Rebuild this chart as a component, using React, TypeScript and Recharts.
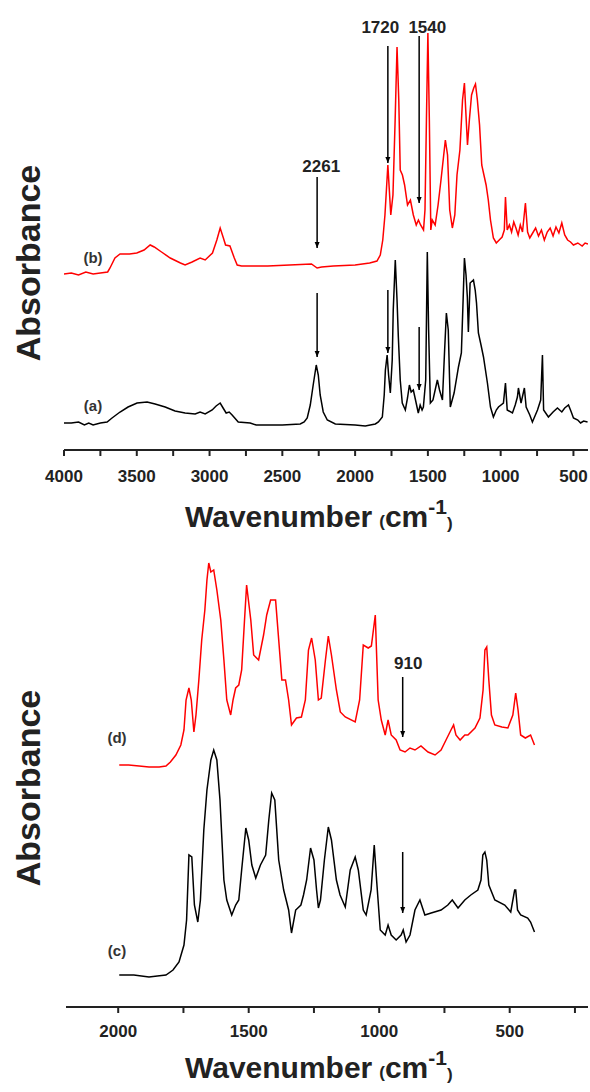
import { LineChart, Line, XAxis, YAxis, ReferenceLine, ReferenceDot } from "recharts";

// FTIR spectra, absorbance in arbitrary units (offset traces), wavenumber in cm-1
// top panel: (a) black, (b) red
const specA: [number, number][] = [
  [4000, 27], [3950, 27], [3900, 28], [3860, 25], [3830, 27], [3800, 25], [3750, 27], [3704, 28],
  [3670, 32], [3615, 38], [3560, 43], [3498, 47], [3429, 48], [3374, 46], [3305, 43], [3237, 39],
  [3168, 37], [3099, 36], [3065, 38], [3030, 36], [2982, 40], [2955, 44], [2927, 47], [2907, 42],
  [2886, 37], [2865, 38], [2845, 35], [2803, 28], [2721, 27], [2680, 25], [2500, 25], [2377, 26],
  [2350, 28], [2329, 32], [2308, 45], [2288, 65], [2267, 85], [2253, 75], [2240, 55], [2219, 38],
  [2191, 30], [2136, 26], [2000, 25], [1930, 24], [1896, 25], [1861, 26], [1840, 28], [1813, 33],
  [1800, 55], [1792, 80], [1780, 95], [1770, 75], [1758, 57], [1745, 90], [1738, 140], [1724, 190],
  [1712, 150], [1703, 113], [1690, 70], [1676, 47], [1655, 40], [1640, 52], [1627, 65], [1615, 58],
  [1600, 60], [1585, 50], [1566, 37], [1553, 45], [1540, 40], [1531, 43], [1515, 70], [1504, 198],
  [1495, 120], [1483, 47], [1465, 50], [1435, 70], [1420, 60], [1400, 50], [1385, 100], [1373, 137],
  [1360, 120], [1346, 43], [1320, 57], [1290, 83], [1270, 97], [1258, 150], [1249, 192], [1238, 175],
  [1229, 153], [1222, 118], [1210, 167], [1187, 170], [1175, 160], [1166, 147], [1153, 117], [1135, 105],
  [1118, 93], [1091, 67], [1070, 43], [1050, 33], [1030, 40], [1015, 43], [981, 47], [967, 67],
  [955, 40], [919, 37], [900, 45], [885, 53], [878, 62], [860, 47], [837, 62], [825, 43],
  [800, 35], [782, 28], [747, 40], [725, 50], [713, 95], [705, 40], [672, 33], [640, 38],
  [610, 42], [580, 38], [560, 42], [534, 45], [515, 38], [500, 32], [470, 30], [451, 27],
  [430, 29], [403, 28],
];

const specB: [number, number][] = [
  [4000, 176], [3950, 177], [3900, 175], [3850, 178], [3800, 176], [3750, 177], [3700, 178], [3684, 182],
  [3650, 192], [3615, 196], [3550, 196], [3500, 197], [3450, 200], [3408, 205], [3380, 203], [3330, 198],
  [3270, 192], [3200, 187], [3168, 185], [3120, 188], [3065, 192], [3030, 190], [2980, 197], [2950, 210],
  [2927, 222], [2905, 212], [2890, 205], [2860, 204], [2830, 192], [2810, 185], [2780, 184], [2600, 184],
  [2450, 185], [2300, 186], [2261, 182], [2230, 183], [2150, 184], [2000, 185], [1900, 187], [1850, 189],
  [1827, 195], [1810, 210], [1795, 235], [1785, 260], [1775, 285], [1765, 260], [1755, 235], [1740, 255],
  [1725, 330], [1712, 403], [1700, 350], [1690, 280], [1675, 275], [1660, 265], [1640, 245], [1620, 250],
  [1600, 235], [1580, 225], [1565, 230], [1550, 225], [1530, 220], [1520, 240], [1510, 330], [1500, 417],
  [1490, 330], [1480, 220], [1470, 230], [1450, 225], [1430, 245], [1410, 270], [1395, 290], [1380, 310],
  [1365, 295], [1350, 240], [1332, 222], [1315, 235], [1300, 275], [1280, 300], [1262, 350], [1249, 367],
  [1240, 340], [1228, 305], [1215, 330], [1200, 355], [1185, 362], [1173, 366], [1160, 350], [1145, 325],
  [1130, 285], [1115, 275], [1100, 265], [1085, 250], [1070, 230], [1050, 212], [1030, 207], [1010, 210],
  [990, 213], [975, 220], [967, 253], [955, 220], [940, 225], [925, 218], [910, 228], [895, 222],
  [880, 215], [865, 225], [850, 218], [830, 247], [815, 218], [800, 212], [780, 217], [760, 222],
  [740, 214], [720, 220], [700, 210], [680, 218], [660, 222], [640, 214], [620, 223], [600, 217],
  [580, 227], [560, 215], [540, 210], [520, 208], [500, 205], [470, 207], [440, 204], [420, 207],
  [400, 206],
];

// bottom panel: (c) black, (d) red
const specC: [number, number][] = [
  [1996, 32], [1940, 32], [1882, 30], [1850, 31], [1817, 32], [1790, 37], [1767, 45], [1748, 62],
  [1738, 87], [1729, 152], [1718, 150], [1708, 102], [1695, 85], [1685, 107], [1672, 177], [1660, 217],
  [1645, 247], [1634, 257], [1622, 247], [1610, 207], [1595, 127], [1584, 107], [1565, 92], [1550, 102],
  [1538, 107], [1527, 137], [1511, 179], [1500, 167], [1488, 142], [1473, 129], [1455, 142], [1435, 152],
  [1423, 187], [1412, 214], [1400, 207], [1385, 147], [1366, 117], [1347, 97], [1336, 74], [1320, 97],
  [1300, 102], [1290, 112], [1278, 127], [1263, 159], [1250, 147], [1240, 117], [1233, 99], [1225, 107],
  [1210, 147], [1195, 180], [1183, 167], [1164, 127], [1150, 112], [1130, 100], [1111, 137], [1092, 150],
  [1080, 137], [1061, 97], [1050, 92], [1031, 117], [1019, 162], [1010, 127], [996, 77], [977, 72],
  [966, 82], [954, 72], [935, 67], [916, 72], [908, 77], [897, 65], [882, 72], [863, 97],
  [844, 107], [825, 92], [801, 94], [763, 97], [737, 102], [720, 107], [698, 99], [672, 107],
  [649, 112], [622, 117], [610, 127], [603, 152], [595, 155], [588, 147], [580, 122], [557, 107],
  [519, 102], [496, 95], [481, 117], [477, 117], [470, 97], [458, 92], [431, 89], [420, 85],
  [405, 75],
];

const specD: [number, number][] = [
  [1996, 242], [1960, 242], [1920, 241], [1882, 240], [1843, 240], [1817, 241], [1800, 245], [1779, 252],
  [1760, 262], [1748, 277], [1740, 307], [1729, 319], [1720, 307], [1710, 275], [1702, 292], [1691, 327],
  [1680, 367], [1668, 397], [1660, 427], [1653, 444], [1645, 435], [1634, 437], [1622, 417], [1607, 387],
  [1595, 347], [1584, 307], [1569, 292], [1560, 307], [1550, 319], [1538, 322], [1527, 337], [1516, 387],
  [1508, 422], [1492, 387], [1481, 352], [1462, 347], [1443, 372], [1431, 392], [1416, 407], [1397, 407],
  [1385, 367], [1373, 327], [1359, 327], [1347, 307], [1336, 282], [1317, 289], [1298, 290], [1283, 307],
  [1271, 357], [1259, 369], [1245, 347], [1233, 307], [1222, 309], [1206, 347], [1195, 371], [1183, 352],
  [1164, 317], [1149, 295], [1130, 290], [1092, 285], [1075, 307], [1061, 362], [1042, 359], [1030, 361],
  [1015, 392], [1004, 307], [992, 287], [977, 272], [966, 287], [954, 272], [935, 267], [920, 257],
  [901, 255], [882, 259], [863, 257], [840, 261], [813, 255], [786, 252], [763, 257], [744, 267],
  [725, 277], [715, 282], [706, 272], [690, 267], [672, 272], [660, 272], [633, 279], [614, 289],
  [602, 317], [595, 357], [588, 360], [580, 327], [570, 292], [557, 282], [530, 280], [507, 279],
  [488, 292], [477, 314], [468, 297], [458, 272], [440, 269], [420, 272], [405, 262],
];

const topTicks = [4000, 3750, 3500, 3250, 3000, 2750, 2500, 2250, 2000, 1750, 1500, 1250, 1000, 750, 500];
const bottomTicks = [2000, 1750, 1500, 1250, 1000, 750, 500, 250];

const toRows = (s: [number, number][]) => s.map(([w, v]) => ({ w, v }));

const FONT = "'Liberation Sans', Arial, sans-serif";
const INK = "#222";

const tickStyle = { fontSize: 17, fontWeight: "bold", fill: INK, fontFamily: FONT };
const every500 = (v: number) => (v % 500 === 0 ? String(v) : "");

const ArrowHead = (props: any) => {
  const { cx, cy } = props;
  return <polygon points={`${cx - 2.5},${cy - 6} ${cx + 2.5},${cy - 6} ${cx},${cy}`} fill="#000" />;
};

const note = (text: string) => (props: any) => (
  <text
    x={props.cx}
    y={props.cy}
    textAnchor="middle"
    dominantBaseline="central"
    fontSize={17}
    fontWeight="bold"
    fontFamily={FONT}
    fill={INK}
  >
    {text}
  </text>
);

function arrow(key: string, x: number, y1: number, y2: number) {
  return [
    <ReferenceLine
      key={key + "l"}
      segment={[{ x, y: y1 }, { x, y: y2 }]}
      stroke="#000"
      strokeWidth={1.5}
      ifOverflow="visible"
    />,
    <ReferenceDot key={key + "h"} x={x} y={y2} r={3} shape={ArrowHead} ifOverflow="visible" />,
  ];
}

function Title({ y }: { y: number }) {
  return (
    <text x={185} y={y} fontFamily={FONT} fontWeight="bold" fill={INK} fontSize={30}>
      Wavenumber
      <tspan fontSize={17} dx={7}>(</tspan>
      <tspan fontSize={30}>cm</tspan>
      <tspan fontSize={21} dy={-13}>-1</tspan>
      <tspan fontSize={17} dy={15}>)</tspan>
    </text>
  );
}

function YTitle({ y }: { y: number }) {
  return (
    <text
      x={28}
      y={y}
      transform={`rotate(-90 28 ${y})`}
      textAnchor="middle"
      dominantBaseline="central"
      fontFamily={FONT}
      fontWeight="bold"
      fill={INK}
      fontSize={34}
    >
      Absorbance
    </text>
  );
}

function Tag({ x, y, t }: { x: number; y: number; t: string }) {
  return (
    <text x={x} y={y} textAnchor="middle" dominantBaseline="central" fontFamily={FONT} fontWeight="bold" fill="#333" fontSize={15}>
      {t}
    </text>
  );
}

export default function App() {
  const axisLine = { stroke: INK, strokeWidth: 2 };
  return (
    <div style={{ position: "absolute", left: 0, top: 0, width: 590, height: 1092, background: "#fff" }}>
      <div style={{ position: "absolute", left: 0, top: 0 }}>
        <LineChart width={590} height={520} margin={{ top: 14, right: 2, bottom: 30, left: 64 }}>
          <XAxis
            type="number"
            dataKey="w"
            domain={[400, 4000]}
            reversed
            ticks={topTicks}
            interval={0}
            tickFormatter={every500}
            tickSize={6}
            tickMargin={14}
            height={40}
            axisLine={axisLine}
            tickLine={axisLine}
            tick={tickStyle}
            allowDataOverflow
          />
          <YAxis type="number" domain={[0, 436]} width={0} tick={false} tickLine={false} axisLine={axisLine} allowDataOverflow />
          <Line data={toRows(specA)} dataKey="v" type="linear" stroke="#000" strokeWidth={1.5} dot={false} isAnimationActive={false} />
          <Line data={toRows(specB)} dataKey="v" type="linear" stroke="#ff0000" strokeWidth={1.5} dot={false} isAnimationActive={false} />
          {arrow("r2261", 2261, 273, 202)}
          {arrow("r1720", 1775, 404, 287)}
          {arrow("r1540", 1560, 414, 247)}
          {arrow("k2261", 2261, 157, 93)}
          {arrow("k1720", 1775, 160, 97)}
          {arrow("k1540", 1560, 123, 60)}
          <ReferenceDot x={2233} y={284} r={1} shape={note("2261")} ifOverflow="visible" />
          <ReferenceDot x={1827} y={423} r={1} shape={note("1720")} ifOverflow="visible" />
          <ReferenceDot x={1504} y={423} r={1} shape={note("1540")} ifOverflow="visible" />
        </LineChart>
      </div>
      <div style={{ position: "absolute", left: 0, top: 520 }}>
        <LineChart width={590} height={572} margin={{ top: 10, right: 2, bottom: 45, left: 66 }}>
          <XAxis
            type="number"
            dataKey="w"
            domain={[200, 2200]}
            reversed
            ticks={bottomTicks}
            interval={0}
            tickFormatter={every500}
            tickSize={6}
            tickMargin={12}
            height={40}
            axisLine={axisLine}
            tickLine={axisLine}
            tick={tickStyle}
            allowDataOverflow
          />
          <YAxis type="number" domain={[0, 477]} width={0} tick={false} tickLine={false} axisLine={axisLine} allowDataOverflow />
          <Line data={toRows(specC)} dataKey="v" type="linear" stroke="#000" strokeWidth={1.5} dot={false} isAnimationActive={false} />
          <Line data={toRows(specD)} dataKey="v" type="linear" stroke="#ff0000" strokeWidth={1.5} dot={false} isAnimationActive={false} />
          {arrow("r910", 910, 330, 270)}
          {arrow("k910", 910, 155, 94)}
          <ReferenceDot x={889} y={344} r={1} shape={note("910")} ifOverflow="visible" />
        </LineChart>
      </div>
      <svg width={590} height={1092} style={{ position: "absolute", left: 0, top: 0, pointerEvents: "none" }}>
        <YTitle y={263} />
        <YTitle y={788} />
        <Title y={527} />
        <Title y={1078} />
        <Tag x={93} y={257} t="(b)" />
        <Tag x={93} y={405} t="(a)" />
        <Tag x={117} y={737} t="(d)" />
        <Tag x={117} y={950} t="(c)" />
      </svg>
    </div>
  );
}
